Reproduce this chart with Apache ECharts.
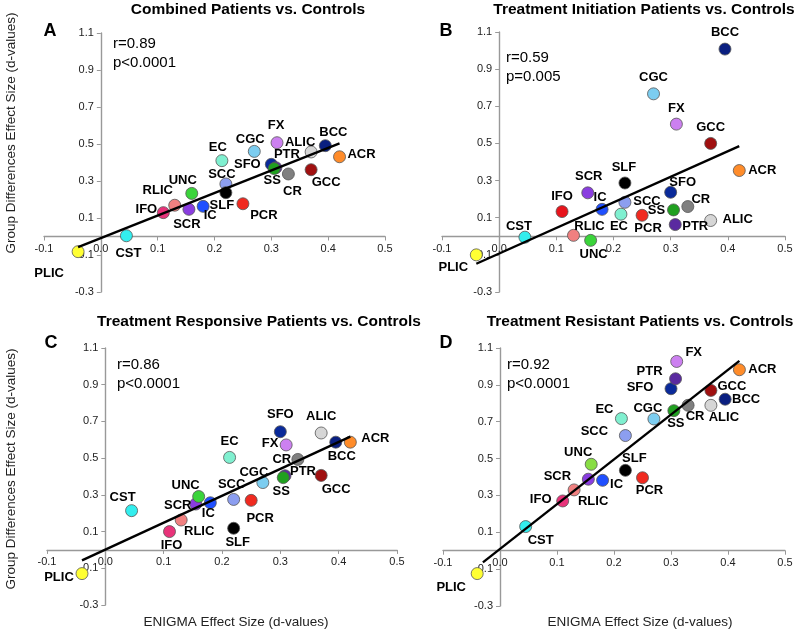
<!DOCTYPE html>
<html><head><meta charset="utf-8">
<script src="https://cdn.jsdelivr.net/npm/echarts@6/dist/echarts.min.js"></script>
<style>html,body{margin:0;padding:0;background:#fff}#c{width:800px;height:633px}</style>
</head><body><div id="c"></div>
<script>
// ---- data ----
const tracts = ['PLIC','CST','IFO','RLIC','SCR','UNC','IC','EC','SCC','SLF','PCR','CGC','SFO','PTR','SS','FX','CR','ALIC','GCC','BCC','ACR'];
const enigma = [-0.04,0.045,0.11,0.13,0.155,0.16,0.18,0.213,0.22,0.22,0.25,0.27,0.30,0.308,0.305,0.31,0.33,0.37,0.37,0.395,0.42];
const combined   = [-0.082,0.004,0.129,0.169,0.147,0.233,0.163,0.41,0.284,0.237,0.177,0.46,0.39,0.372,0.367,0.507,0.338,0.457,0.361,0.491,0.431];
const initiation = [-0.10,-0.005,0.133,0.005,0.234,-0.022,0.145,0.119,0.183,0.287,0.113,0.767,0.237,0.063,0.142,0.604,0.16,0.085,0.50,1.008,0.354];
const responsive = [-0.129,0.214,0.10,0.163,0.25,0.291,0.257,0.504,0.275,0.118,0.27,0.367,0.644,0.404,0.394,0.572,0.493,0.637,0.406,0.587,0.587];
const resistant  = [-0.124,0.131,0.27,0.33,0.388,0.469,0.382,0.717,0.625,0.436,0.396,0.715,0.879,0.933,0.76,1.027,0.789,0.789,0.87,0.822,0.982];
const fitCombined   = [[-0.04,-0.058],[0.42,0.503]];
const fitInitiation = [[-0.04,-0.148],[0.42,0.485]];
const fitResponsive = [[-0.04,-0.057],[0.42,0.617]];
const fitResistant  = [[-0.03,-0.063],[0.42,1.03]];
const panelTitles = ['Combined Patients vs. Controls','Treatment Initiation Patients vs. Controls','Treatment Responsive Patients vs. Controls','Treatment Resistant Patients vs. Controls'];
const panelLetters = ['A','B','C','D'];
const rTexts = ['r=0.89','r=0.59','r=0.86','r=0.92'];
const pTexts = ['p<0.0001','p=0.005','p<0.0001','p<0.0001'];
const xTicks = {min:-0.1,max:0.5,interval:0.1};
const yTicks = {min:-0.3,max:1.1,interval:0.2};

// ---- styles ----
const colors = {PLIC:'#ffff33',CST:'#33eeee',IFO:'#e8337a',RLIC:'#f08080',SCR:'#8a3de0',UNC:'#3bd43b',IC:'#1f4fff',EC:'#80f0d0',SCC:'#8c9ef0',SLF:'#000000',PCR:'#f02a20',CGC:'#7ccdf0',SFO:'#0a2a9a',PTR:'#5a2aa0',SS:'#20a020',FX:'#cc80f0',CR:'#808080',ALIC:'#d6d6d6',GCC:'#a01010',BCC:'#0a1f80',ACR:'#ff8c2a'};
const colorOverrides = [{}, {IFO:'#e8141c'}, {}, {UNC:'#88dd44'}];
const labelOffsets = [
 [[-29,22],[2,18],[-17,-3],[-17,-15],[-2,15],[-9,-13],[7,9],[-4,-13],[-4,-10],[-4,13],[21,12],[-4,-12],[-24,0],[11,-13],[-2,12],[-1,-17],[4,17],[-11,-10],[15,13],[8,-13],[22,-2]],
 [[-23,13],[-6,-11],[0,-15],[16,-9],[1,-16],[3,14],[-2,-12],[-2,12],[22,-1],[-1,-16],[6,13],[0,-16],[12,-10],[20,2],[-17,1],[0,-16],[13,-7],[27,-1],[0,-16],[0,-17],[23,0]],
 [[-23,4],[-9,-13],[2,14],[18,11],[-18,1],[-13,-11],[-2,11],[0,-16],[-2,-15],[4,14],[9,18],[-9,-10],[0,-17],[18,-4],[-2,14],[-16,-2],[-16,0],[0,-17],[15,14],[6,14],[25,-4]],
 [[-26,14],[15,14],[-22,-2],[19,12],[-31,-3],[-13,-12],[14,4],[-17,-9],[-31,-4],[9,-12],[7,13],[-6,-11],[-31,-1],[-26,-7],[2,13],[17,-9],[7,11],[13,12],[21,-4],[21,0],[23,0]]
];
const W = 800, H = 633;
const grids = [
 {left:44,right:415,top:33,bottom:341},
 {left:442,right:15,top:32,bottom:341},
 {left:47,right:403,top:348,bottom:28},
 {left:443,right:15,top:348,bottom:27}
];
const titlePos = [[248,10],[644,10],[259,322],[640,322]];
const letterPos = [[50,31],[446,31],[51,343],[446,343]];
const rPos = [[113,44],[506,58],[117,365],[507,365]];

const FONT = '"Liberation Sans", Arial, Helvetica, sans-serif';
const ys = [combined, initiation, responsive, resistant];
const fits = [fitCombined, fitInitiation, fitResponsive, fitResistant];

// distance from grid edge to the zero line, so labels sit next to the zero-crossing axes
function zeroShift(g){
  const w = W - g.left - g.right, h = H - g.top - g.bottom;
  return {
    dx: w * (0 - xTicks.min) / (xTicks.max - xTicks.min),
    dy: h * (0 - yTicks.min) / (yTicks.max - yTicks.min)
  };
}

const option = {
  animation:false,
  textStyle:{fontFamily:FONT},
  grid: grids.map(g=>Object.assign({containLabel:false},g)),
  xAxis: grids.map((g,i)=>({
    type:'value', gridIndex:i, min:xTicks.min, max:xTicks.max, interval:xTicks.interval,
    splitLine:{show:false},
    axisLine:{show:true,onZero:true,lineStyle:{color:'#999',width:1.4}},
    axisTick:{show:true,length:4,lineStyle:{color:'#999'}},
    axisLabel:{fontSize:11,color:'#222',margin:7 - zeroShift(g).dy,fontFamily:FONT,formatter:v=>v.toFixed(1)}
  })),
  yAxis: grids.map((g,i)=>({
    type:'value', gridIndex:i, min:yTicks.min, max:yTicks.max, interval:yTicks.interval,
    splitLine:{show:false},
    axisLine:{show:true,onZero:true,lineStyle:{color:'#999',width:1.4}},
    axisTick:{show:true,length:4,lineStyle:{color:'#999'}},
    axisLabel:{fontSize:11,color:'#222',margin:7 - zeroShift(g).dx,fontFamily:FONT,formatter:v=>v.toFixed(1)}
  })),
  series: [],
  graphic: []
};

ys.forEach((yv,p)=>{
  const offs = labelOffsets[p];
  option.series.push({
    type:'scatter', xAxisIndex:p, yAxisIndex:p, symbolSize:12, z:2,
    data: tracts.map((t,i)=>({
      name:t, value:[enigma[i], yv[i]],
      itemStyle:{color:(colorOverrides[p][t]||colors[t]), borderColor:'#555', borderWidth:0.8, opacity:1}
    })),
    itemStyle:{opacity:1},
    label:{show:true, position:'inside', formatter:'{b}', fontSize:13, fontWeight:'bold', color:'#000', fontFamily:FONT},
    labelLayout:function(params){ const o = offs[params.dataIndex]; return {dx:o[0], dy:o[1], hideOverlap:false}; }
  });
  option.series.push({
    type:'line', xAxisIndex:p, yAxisIndex:p, data:fits[p], symbol:'none', z:3,
    lineStyle:{color:'#000',width:2.4}, silent:true
  });
  option.graphic.push(
    {type:'text', x:titlePos[p][0], y:titlePos[p][1], style:{text:panelTitles[p], font:'bold 15.5px '+FONT, fill:'#000', textAlign:'center', textVerticalAlign:'middle'}},
    {type:'text', x:letterPos[p][0], y:letterPos[p][1], style:{text:panelLetters[p], font:'bold 18px '+FONT, fill:'#000', textAlign:'center', textVerticalAlign:'middle'}},
    {type:'text', x:rPos[p][0], y:rPos[p][1], style:{text:rTexts[p], font:'15px '+FONT, fill:'#000', textAlign:'left', textVerticalAlign:'middle'}},
    {type:'text', x:rPos[p][0], y:rPos[p][1]+19, style:{text:pTexts[p], font:'15px '+FONT, fill:'#000', textAlign:'left', textVerticalAlign:'middle'}}
  );
});
option.graphic.push(
  {type:'text', x:11, y:133, rotation:Math.PI/2, style:{text:'Group Differences Effect Size (d-values)', font:'13.5px '+FONT, fill:'#222', textAlign:'center', textVerticalAlign:'middle'}},
  {type:'text', x:11, y:469, rotation:Math.PI/2, style:{text:'Group Differences Effect Size (d-values)', font:'13.5px '+FONT, fill:'#222', textAlign:'center', textVerticalAlign:'middle'}},
  {type:'text', x:236, y:622, style:{text:'ENIGMA Effect Size (d-values)', font:'13.5px '+FONT, fill:'#222', textAlign:'center', textVerticalAlign:'middle'}},
  {type:'text', x:640, y:622, style:{text:'ENIGMA Effect Size (d-values)', font:'13.5px '+FONT, fill:'#222', textAlign:'center', textVerticalAlign:'middle'}}
);

const chart = echarts.init(document.getElementById('c'), null, {renderer:'canvas'});
chart.setOption(option);
</script></body></html>
